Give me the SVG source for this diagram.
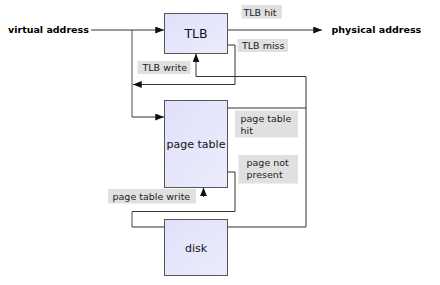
<svg xmlns="http://www.w3.org/2000/svg" width="440" height="285" viewBox="0 0 440 285">
<defs>
<marker id="ah" viewBox="0 0 10 8" refX="10" refY="4" markerWidth="9" markerHeight="7" markerUnits="userSpaceOnUse" orient="auto">
<path d="M0,0 L10,4 L0,8 Z" fill="#111"/>
</marker>
<linearGradient id="bg" x1="0" y1="0" x2="1" y2="1">
<stop offset="0" stop-color="#e0e0fa"/>
<stop offset="1" stop-color="#ececfc"/>
</linearGradient>
</defs>
<style>
.box{fill:url(#bg);stroke:#555;stroke-width:1}
.bt{font-family:"DejaVu Sans",sans-serif;fill:#111;text-anchor:middle}
.lbl{fill:#e0e0e0}
.lt{font-family:"DejaVu Sans",sans-serif;font-size:9.5px;fill:#222}
.io{font-family:"DejaVu Sans",sans-serif;font-size:9.5px;font-weight:bold;fill:#000}
.c{fill:none;stroke:#333;stroke-width:1}
.g{fill:none;stroke:#888;stroke-width:1.5}
</style>
<rect width="440" height="285" fill="#fff"/>
<g id="connectors">
<path class="g" d="M132,30 V117"/>
<path class="g" d="M132,212 V227"/>
<path class="c" d="M91,30 H164" marker-end="url(#ah)"/>
<path class="c" d="M132,117 H164" marker-end="url(#ah)"/>
<path class="c" d="M227.5,30 H322" marker-end="url(#ah)"/>
<path class="c" d="M227.5,45 H235 V84.5 H133" marker-end="url(#ah)"/>
<path class="c" d="M227.5,108 H306"/>
<path class="c" d="M227.5,227 H306 V76.5 H196 V53.5" marker-end="url(#ah)"/>
<path class="c" d="M227.5,172 H235 V211.5 H132"/>
<path class="c" d="M132,227 H164.5"/>
<path class="c" d="M203.5,197 V187.5" marker-end="url(#ah)"/>
</g>
<g id="virtual-address"><text class="io" x="8" y="33">virtual address</text></g>
<g id="physical-address"><text class="io" x="331.5" y="33">physical address</text></g>
<g id="tlb">
<rect class="box" x="164.5" y="13.5" width="63" height="40"/>
<text class="bt" x="196" y="38" font-size="12.5">TLB</text>
</g>
<g id="page-table">
<rect class="box" x="164.5" y="100.5" width="63" height="87"/>
<text class="bt" x="196" y="147.5" font-size="11">page table</text>
</g>
<g id="disk">
<rect class="box" x="164.5" y="219.5" width="63" height="56"/>
<text class="bt" x="196" y="251.5" font-size="11">disk</text>
</g>
<g id="labels">
<rect class="lbl" x="241.5" y="5" width="40.5" height="13.5"/>
<text class="lt" x="243.5" y="15.5">TLB hit</text>
<rect class="lbl" x="237.5" y="39" width="50.5" height="13"/>
<text class="lt" x="242" y="49">TLB miss</text>
<rect class="lbl" x="137.5" y="61" width="53" height="13"/>
<text class="lt" x="142.5" y="71">TLB write</text>
<rect class="lbl" x="235" y="110.5" width="63" height="27"/>
<text class="lt" x="240.5" y="122">page table</text>
<text class="lt" x="240.5" y="133.5">hit</text>
<rect class="lbl" x="238.5" y="155" width="59.5" height="28.5"/>
<text class="lt" x="246.5" y="166">page not</text>
<text class="lt" x="246.5" y="177.5">present</text>
<rect class="lbl" x="108" y="189" width="88" height="14.5"/>
<text class="lt" x="112.5" y="200">page table write</text>
</g>
</svg>
